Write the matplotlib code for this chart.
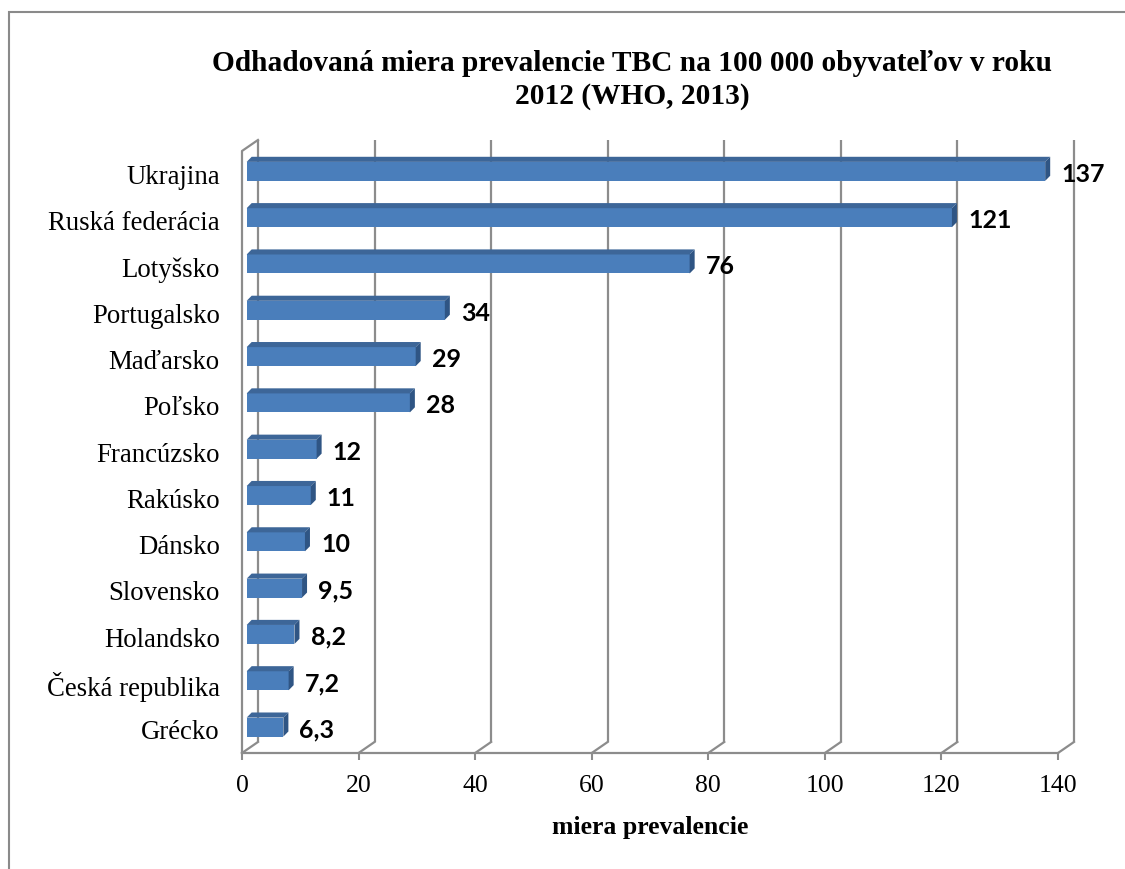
import numpy as np
import matplotlib.pyplot as plt
from matplotlib.patches import Polygon, Rectangle

countries = ['Grécko', 'Česká republika', 'Holandsko', 'Slovensko', 'Dánsko',
             'Rakúsko', 'Francúzsko', 'Poľsko', 'Maďarsko', 'Portugalsko',
             'Lotyšsko', 'Ruská federácia', 'Ukrajina']
values = [6.3, 7.2, 8.2, 9.5, 10, 11, 12, 28, 29, 34, 76, 121, 137]
value_labels = ['6,3', '7,2', '8,2', '9,5', '10', '11', '12', '28', '29', '34',
                '76', '121', '137']
xticks = [0, 20, 40, 60, 80, 100, 120, 140]

serif = 'Liberation Serif'
grid_col = '#8c8c8c'
front_col = '#4a7ebb'
top_col = '#3d6698'
side_col = '#2f5584'

fig = plt.figure(figsize=(11.25, 8.69), dpi=100)
# outer chart border
fig.add_artist(Rectangle((9 / 1125, -0.02), 1.1, 1 - 12 / 869 + 0.02,
                         transform=fig.transFigure, fill=False,
                         edgecolor='#8a8a8a', lw=1.5))

ax = fig.add_axes([242 / 1125, 1 - 753 / 869, 816 / 1125, 602 / 869])
ax.set_xlim(0, 140)
ax.set_ylim(-0.5, 12.5)
for s in ax.spines.values():
    s.set_visible(False)

# 3d wall offsets (data units)
wx, wy = 2.74, 0.238
ymin, ymax = -0.5, 12.5

# back wall gridlines and floor
for t in xticks:
    ax.plot([t + wx, t + wx], [ymin + wy, ymax + wy], color=grid_col, lw=1.6,
            clip_on=False, zorder=1, solid_capstyle='butt')
    ax.plot([t, t + wx], [ymin, ymin + wy], color=grid_col, lw=1.6,
            clip_on=False, zorder=1)
ax.plot([0, 140], [ymin, ymin], color=grid_col, lw=1.6, clip_on=False, zorder=1)
ax.plot([0, 0, wx], [ymin, ymax, ymax + wy], color=grid_col, lw=1.6,
        clip_on=False, zorder=1)

# bars with depth
y = np.arange(len(countries))
x0, by, h = 0.8, 0.06, 0.41
ddx, ddy = 0.86, 0.11
ax.barh(y + by, values, left=x0, height=h, color=front_col, zorder=3)
for yi, v, lab in zip(y, values, value_labels):
    yc = yi + by
    top = Polygon([(x0, yc + h / 2), (x0 + v, yc + h / 2),
                   (x0 + v + ddx, yc + h / 2 + ddy), (x0 + ddx, yc + h / 2 + ddy)],
                  closed=True, facecolor=top_col, edgecolor='none', zorder=3)
    side = Polygon([(x0 + v, yc - h / 2), (x0 + v, yc + h / 2),
                    (x0 + v + ddx, yc + h / 2 + ddy), (x0 + v + ddx, yc - h / 2 + ddy)],
                   closed=True, facecolor=side_col, edgecolor='none', zorder=3)
    ax.add_patch(top)
    ax.add_patch(side)
    ax.text(x0 + v + ddx + 1.9, yc - 0.06, lab, ha='left', va='center',
            fontsize=18, fontweight='bold', family='Lato', zorder=4,
            clip_on=False)

ax.set_yticks(y)
ax.set_yticklabels(countries, fontsize=19.3, family=serif)
ax.tick_params(axis='y', length=0, pad=16)
ax.set_xticks(xticks)
ax.set_xticklabels([str(t) for t in xticks], fontsize=18.5, family=serif)
ax.tick_params(axis='x', length=5, width=1.5, color=grid_col, pad=11)

ax.set_xlabel('miera prevalencie', fontsize=18.5, fontweight='bold', family=serif)
ax.xaxis.set_label_coords(0.5, -0.124)
ax.xaxis.label.set_va('center')

fig.text(0.562, 1 - 80 / 869,
         'Odhadovaná miera prevalencie TBC na 100 000 obyvateľov v roku\n2012 (WHO, 2013)',
         ha='center', va='center', fontsize=21.2, fontweight='bold',
         family=serif, linespacing=1.3)

fig.savefig('out.png', dpi=100)
